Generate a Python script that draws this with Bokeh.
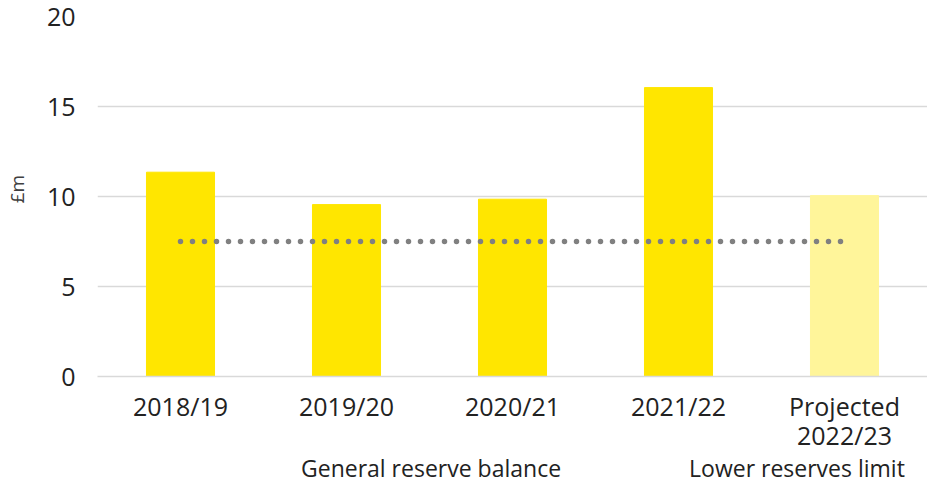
from bokeh.plotting import figure
from bokeh.layouts import column
from bokeh.models import ColumnDataSource, Legend, LegendItem, Range1d, FixedTicker
from bokeh.embed import file_html
from bokeh.resources import INLINE

categories = ["2018/19", "2019/20", "2020/21", "2021/22", "Projected\n2022/23"]
balance = [11.35, 9.55, 9.85, 16.05, 10.05]
bar_colors = ["#FFE600", "#FFE600", "#FFE600", "#FFE600", "#FFF59A"]
lower_limit = [7.5, 7.5, 7.5, 7.5, 7.5]
y_ticks = [0, 5, 10, 15, 20]
legend_labels = ["General reserve balance", "Lower reserves limit"]

FONT = "Open Sans"
TICK_SIZE = "25px"
BAR_COLOR = "#FFE600"
LIMIT_COLOR = "#808080"

positions = list(range(len(categories)))

p = figure(x_range=Range1d(-0.5, len(categories) - 0.5), y_range=Range1d(0, 20),
           width=927, height=454, output_backend="svg", toolbar_location=None,
           min_border_left=89, min_border_right=0, min_border_top=16, min_border_bottom=73)
p.outline_line_color = None

src = ColumnDataSource(dict(x=positions, val=balance, color=bar_colors))
p.vbar(x="x", top="val", width=0.41, color="color", source=src)
p.line(x=positions, y=lower_limit, line_color=LIMIT_COLOR, line_width=5.5,
       line_dash="0 12", line_cap="round")

p.xgrid.grid_line_color = None
p.ygrid.grid_line_color = "#D9D9D9"
p.ygrid.grid_line_width = 1.5
p.yaxis.ticker = FixedTicker(ticks=y_ticks)
p.yaxis.axis_line_color = None
p.yaxis.major_tick_line_color = None
p.yaxis.minor_tick_line_color = None
p.yaxis.major_tick_out = 0
p.yaxis.major_label_text_font = FONT
p.yaxis.major_label_text_font_size = TICK_SIZE
p.yaxis.major_label_text_color = "#222222"
p.yaxis.major_label_standoff = 22
p.yaxis.axis_label = "\u00a0\u00a0\u00a0£m"
p.yaxis.axis_label_text_font = FONT
p.yaxis.axis_label_text_font_size = "19px"
p.yaxis.axis_label_text_font_style = "normal"
p.yaxis.axis_label_text_color = "#404040"
p.yaxis.axis_label_standoff = 14

xa = p.xaxis[0]
xa.ticker = FixedTicker(ticks=positions)
xa.axis_line_color = "#D9D9D9"
xa.axis_line_width = 1.5
xa.major_tick_line_color = None
xa.minor_tick_line_color = None
xa.major_tick_out = 0
xa.major_label_text_font = FONT
xa.major_label_text_font_size = TICK_SIZE
xa.major_label_text_color = "#222222"
xa.major_label_text_line_height = 0.86
xa.major_label_standoff = 12
xa.major_label_overrides = {i: c for i, c in zip(positions, categories)}

# legend strip below the chart
lg = figure(x_range=Range1d(0, 1), y_range=Range1d(0, 1), width=927, height=30,
            output_backend="svg", toolbar_location=None,
            x_axis_location=None, y_axis_location=None,
            min_border_left=0, min_border_right=0, min_border_top=0, min_border_bottom=0)
lg.outline_line_color = None
lg.xgrid.visible = False
lg.ygrid.visible = False
r_bar = lg.vbar(x=[], top=[], width=0.41, color=BAR_COLOR)
r_line = lg.line(x=[], y=[], line_color=LIMIT_COLOR, line_width=5.5,
                 line_dash="0 12", line_cap="round")

legend = Legend(items=[LegendItem(label=legend_labels[0], renderers=[r_bar]),
                       LegendItem(label=legend_labels[1], renderers=[r_line])],
                orientation="horizontal", location=(128, 0),
                glyph_width=69, glyph_height=14, label_standoff=7, spacing=52,
                padding=0, margin=0, border_line_color=None, background_fill_alpha=0,
                label_text_font=FONT, label_text_font_size="23px", label_text_color="#222222")
lg.add_layout(legend, "center")

open("out.html", "w").write(file_html(column(p, lg, spacing=0), INLINE))
